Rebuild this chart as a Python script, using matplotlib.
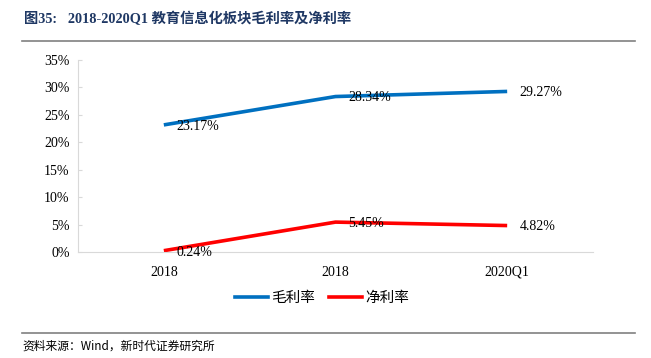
import matplotlib.pyplot as plt
from matplotlib.ticker import FuncFormatter
from matplotlib.lines import Line2D

plt.rcParams['font.family'] = ['Liberation Serif', 'Noto Sans CJK SC']

# 数据
categories = ['2018', '2018', '2020Q1']
gross_margin = [23.17, 28.34, 29.27]
net_margin = [0.24, 5.45, 4.82]
series_names = ['毛利率', '净利率']
title_text = '图35:   2018-2020Q1 教育信息化板块毛利率及净利率'
source_text = '资料来源：Wind，新时代证券研究所'

fig = plt.figure(figsize=(6.51, 3.58), dpi=100)
ax = fig.add_axes([78 / 651, 1 - 252 / 358, (593 - 78) / 651, (252 - 60) / 358])

x = list(range(len(categories)))
ax.plot(x, gross_margin, color='#0070C0', linewidth=2.6, solid_capstyle='butt')
ax.plot(x, net_margin, color='#FF0000', linewidth=2.6, solid_capstyle='butt')

for xi, v in zip(x, gross_margin):
    ax.annotate(f'{v:.2f}%', (xi, v), xytext=(9, -1), textcoords='offset points',
                ha='left', va='center', fontsize=10)
for xi, v in zip(x, net_margin):
    ax.annotate(f'{v:.2f}%', (xi, v), xytext=(9, -1), textcoords='offset points',
                ha='left', va='center', fontsize=10)

ax.set_xlim(-0.5, 2.5)
ax.set_ylim(0, 35)
ax.set_yticks(range(0, 36, 5))
ax.yaxis.set_major_formatter(FuncFormatter(lambda v, p: f'{v:.0f}%'))
ax.set_xticks(x)
ax.set_xticklabels(categories)
ax.tick_params(axis='y', direction='in', length=3, color='#D9D9D9', labelsize=10, pad=6)
ax.tick_params(axis='x', length=0, labelsize=10, pad=10)
for s in ['top', 'right']:
    ax.spines[s].set_visible(False)
ax.spines['left'].set_color('#D9D9D9')
ax.spines['bottom'].set_color('#D9D9D9')

handles = [Line2D([], [], color='#0070C0', linewidth=2.6),
           Line2D([], [], color='#FF0000', linewidth=2.6)]
fig.legend(handles, series_names, loc='center', bbox_to_anchor=(322 / 651, 1 - 298 / 358),
           ncol=2, frameon=False, handlelength=2.25, handletextpad=0.2, columnspacing=1.0,
           prop={'family': ['Noto Sans CJK SC'], 'size': 10.5})

# 标题与来源
fig.text(24 / 651, 1 - 19 / 358, title_text, fontsize=10.3, fontweight='bold',
         color='#1F3864', va='center', ha='left')
fig.add_artist(Line2D([22 / 651, 635 / 651], [1 - 41 / 358] * 2, color='#808080', linewidth=1.2))
fig.add_artist(Line2D([22 / 651, 635 / 651], [1 - 333 / 358] * 2, color='#808080', linewidth=1.2))
fig.text(22 / 651, 1 - 346 / 358, source_text, fontsize=8.5, va='center', ha='left',
         family=['Noto Sans CJK SC'])

fig.savefig('out.png', dpi=100)
